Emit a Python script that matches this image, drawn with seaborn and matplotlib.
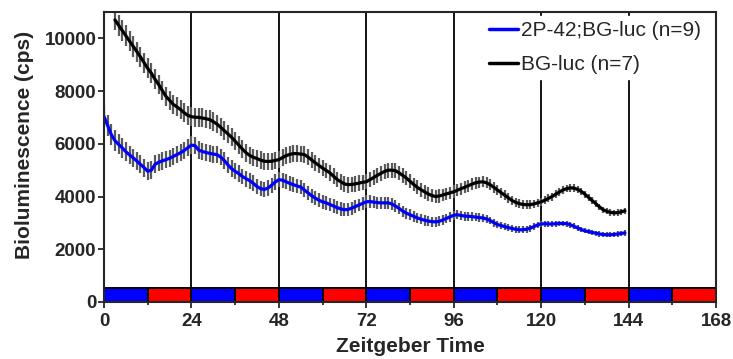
import numpy as np
import pandas as pd
import matplotlib
matplotlib.use("Agg")
import matplotlib.pyplot as plt
import seaborn as sns

# ---- data: hourly bioluminescence traces (mean and SEM, cps) ----
label_mut = "2P-42;BG-luc (n=9)"
label_ctl = "BG-luc (n=7)"

time_mut = list(range(0, 144))
mean_mut = [
    7040, 6700, 6350, 6120, 5980, 5850, 5700, 5580, 5470, 5350, 5220, 5100,
    4960, 5000, 5220, 5300, 5350, 5400, 5450, 5520, 5590, 5660, 5750, 5850,
    5950, 5930, 5760, 5710, 5670, 5640, 5610, 5590, 5500, 5370, 5200, 5060,
    4960, 4870, 4760, 4680, 4600, 4500, 4380, 4300, 4270, 4320, 4430, 4550,
    4640, 4620, 4560, 4500, 4450, 4400, 4360, 4250, 4140, 4030, 3940, 3860,
    3800, 3760, 3700, 3640, 3580, 3530, 3500, 3510, 3560, 3620, 3680, 3740,
    3800, 3810, 3790, 3770, 3760, 3760, 3760, 3720, 3640, 3550, 3450, 3370,
    3310, 3250, 3190, 3140, 3100, 3070, 3050, 3040, 3060, 3110, 3170, 3230,
    3290, 3310, 3280, 3260, 3250, 3240, 3220, 3200, 3190, 3150, 3090, 3010,
    2940, 2900, 2860, 2820, 2790, 2760, 2740, 2740, 2760, 2800, 2860, 2920,
    2960, 2970, 2960, 2960, 2970, 2980, 2980, 2970, 2930, 2870, 2810, 2750,
    2700, 2670, 2640, 2610, 2580, 2560, 2550, 2550, 2560, 2580, 2600, 2620,
]
sem_mut = [
    420, 410, 400, 390, 380, 370, 360, 350, 350, 340, 340, 340,
    340, 340, 340, 330, 330, 330, 330, 330, 330, 330, 330, 330,
    330, 330, 330, 320, 320, 320, 320, 320, 310, 310, 310, 310,
    310, 310, 300, 300, 300, 300, 300, 290, 290, 290, 290, 290,
    290, 290, 280, 280, 280, 280, 280, 270, 270, 270, 270, 270,
    260, 260, 260, 260, 250, 250, 250, 250, 250, 240, 240, 240,
    240, 240, 230, 230, 230, 230, 220, 220, 220, 220, 210, 210,
    210, 210, 200, 200, 200, 200, 190, 190, 190, 190, 180, 180,
    180, 180, 170, 170, 170, 170, 160, 160, 160, 150, 150, 150,
    150, 140, 140, 140, 140, 130, 130, 130, 130, 130, 120, 120,
    120, 120, 120, 120, 110, 110, 110, 110, 110, 110, 110, 110,
    100, 100, 100, 100, 100, 100, 100, 100, 100, 100, 100, 100,
]

time_ctl = list(range(3, 144))
mean_ctl = [
    10700, 10500, 10300, 10100, 9900, 9700, 9500, 9300, 9080,
    8860, 8680, 8450, 8250, 8020, 7800, 7650, 7500, 7400, 7300, 7180, 7080,
    7030, 7010, 7000, 6980, 6950, 6920, 6840, 6750, 6630, 6500, 6380, 6250,
    6100, 5950, 5800, 5660, 5560, 5490, 5440, 5380, 5340, 5330, 5340, 5370,
    5400, 5480, 5550, 5600, 5630, 5630, 5610, 5590, 5500, 5390, 5280, 5180,
    5080, 4990, 4900, 4770, 4650, 4560, 4480, 4450, 4460, 4480, 4510, 4540,
    4560, 4640, 4720, 4800, 4880, 4950, 5000, 5000, 4980, 4900, 4800, 4700,
    4580, 4460, 4350, 4260, 4180, 4100, 4040, 4000, 4020, 4060, 4100, 4140,
    4180, 4240, 4300, 4350, 4410, 4470, 4520, 4550, 4560, 4520, 4450, 4350,
    4250, 4150, 4050, 3950, 3850, 3780, 3730, 3700, 3690, 3690, 3720, 3760,
    3800, 3860, 3930, 4000, 4090, 4170, 4250, 4300, 4330, 4320, 4270, 4200,
    4090, 3970, 3850, 3730, 3610, 3500, 3440, 3400, 3380, 3390, 3420, 3460,
]
sem_ctl = [
    400, 400, 400, 390, 390, 390, 380, 380, 380,
    380, 380, 380, 370, 370, 370, 370, 370, 360, 360, 360, 360,
    360, 360, 360, 360, 350, 350, 350, 350, 350, 350, 340, 340,
    340, 340, 340, 340, 330, 330, 330, 330, 330, 330, 320, 320,
    320, 320, 320, 320, 320, 310, 310, 310, 310, 310, 310, 300,
    300, 300, 300, 300, 300, 300, 300, 300, 290, 290, 290, 290,
    290, 290, 290, 290, 280, 280, 280, 280, 280, 270, 270, 270,
    270, 260, 260, 260, 260, 250, 250, 250, 250, 240, 240, 240,
    240, 230, 230, 230, 220, 220, 220, 210, 210, 210, 200, 200,
    200, 190, 190, 190, 180, 180, 180, 170, 170, 170, 160, 160,
    160, 150, 150, 150, 150, 140, 140, 140, 140, 140, 130, 130,
    130, 130, 130, 130, 120, 120, 120, 120, 120, 120, 120, 120,
]

# light/dark schedule (12 h blocks)
phase_start = [0, 12, 24, 36, 48, 60, 72, 84, 96, 108, 120, 132, 144, 156]
phase_kind = ["light", "dark"] * 7
day_bounds = [24, 48, 72, 96, 120, 144]

x_ticks = [0, 24, 48, 72, 96, 120, 144, 168]
y_ticks = [0, 2000, 4000, 6000, 8000, 10000]

# ---- styling ----
sns.set_style("ticks")
plt.rcParams["font.family"] = ["Liberation Sans", "DejaVu Sans"]
plt.rcParams["font.weight"] = "bold"

colors = {label_mut: "#0000FF", label_ctl: "#000000"}
phase_colors = {"light": "#0000FF", "dark": "#FF0000"}

df = pd.concat([
    pd.DataFrame({"time": time_mut, "cps": mean_mut, "sem": sem_mut,
                  "group": label_mut}),
    pd.DataFrame({"time": time_ctl, "cps": mean_ctl, "sem": sem_ctl,
                  "group": label_ctl}),
], ignore_index=True)

fig = plt.figure(figsize=(7.33, 3.59), dpi=100)
ax = fig.add_axes([104 / 733, 1 - 302 / 359, 612 / 733, 290 / 359])

# day boundaries
ax.vlines(day_bounds, 0, 11000, colors="black", lw=1.3, zorder=1)

# SEM whiskers
for grp, sub in df.groupby("group"):
    ax.errorbar(sub["time"], sub["cps"], yerr=sub["sem"], fmt="none",
                ecolor="#5a5a5a", elinewidth=1.6, capsize=0, zorder=3)

# mean traces
sns.lineplot(data=df, x="time", y="cps", hue="group",
             hue_order=[label_mut, label_ctl], palette=colors,
             estimator=None, lw=2.3, ax=ax, zorder=4)

# light/dark bar
ax.bar(phase_start, 520, width=12, align="edge",
       color=[phase_colors[k] for k in phase_kind],
       edgecolor="black", linewidth=1.4, zorder=5)

ax.set_xlim(0, 168)
ax.set_ylim(0, 11000)
ax.set_xticks(x_ticks)
ax.set_xticks(phase_start[1::2], minor=True)
ax.set_yticks(y_ticks)
ax.tick_params(axis="both", which="major", direction="out", length=4,
               width=1.3, labelsize=13.5)
ax.tick_params(axis="x", which="major", pad=4)
ax.tick_params(axis="y", which="major", pad=1.5)
ax.tick_params(axis="x", which="minor", direction="out", length=2.5,
               width=1.3)
for lab in ax.get_xticklabels() + ax.get_yticklabels():
    lab.set_fontweight("bold")
for sp in ax.spines.values():
    sp.set_linewidth(1.5)
    sp.set_zorder(6)

ax.set_xlabel("Zeitgeber Time", fontsize=15, fontweight="bold", labelpad=5)
ax.set_ylabel("Bioluminescence (cps)", fontsize=15, fontweight="bold")
ax.yaxis.set_label_coords(-0.114, 0.54)

handles, labels = ax.get_legend_handles_labels()
leg = ax.legend(handles, labels, loc="upper right",
                bbox_to_anchor=(0.984, 0.986), borderaxespad=0,
                borderpad=0.25, frameon=True, fancybox=False,
                edgecolor="white", facecolor="white", framealpha=1,
                handlelength=1.4, handletextpad=0.15, labelspacing=0.72,
                prop={"size": 15, "weight": "normal"}, title=None)
leg.set_zorder(2)
for h in leg.get_lines():
    h.set_linewidth(2.5)

fig.savefig("out.png", dpi=100)
